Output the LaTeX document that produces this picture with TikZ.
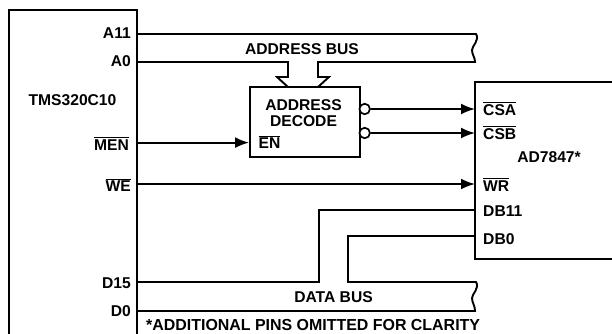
\documentclass[tikz,border=0pt]{standalone}
\usepackage{fontspec}
\setmainfont{Liberation Sans}
\usepackage{amsmath}
\usetikzlibrary{arrows.meta}
\newcommand{\barsig}[1]{$\overline{\mbox{#1}}$}
\tikzset{
  pin/.style={font=\fontsize{15.7}{16}\selectfont\bfseries, inner sep=0pt, text height=11.2pt, text depth=0pt},
  pinr/.style={pin, anchor=east},
  pinl/.style={pin, anchor=west},
  chip/.style={line width=2.6bp, line cap=rect},
  wire/.style={line width=1.9bp},
  sig/.style={wire, -{Latex[length=14bp,width=11bp]}},
  bubble/.style={circle, draw, line width=1.7bp, fill=white, minimum size=10.5bp, inner sep=0pt}
}
\begin{document}
\begin{tikzpicture}[x=1bp, y=-1bp]
  \useasboundingbox (0,0) rectangle (612,333);
  % chips
  \draw[chip] (9,333) -- (9,10) -- (137,10) -- (137,333);
  \draw[chip] (612,82) -- (475,82) -- (475,259) -- (612,259);
  \node[draw, line width=1.9bp, minimum width=110bp, minimum height=70bp, inner sep=0pt] (decode) at (305,122) {};
  % pins, left
  \coordinate (a11) at (137,34);
  \coordinate (a0) at (137,62);
  \coordinate (men) at (137,142.6);
  \coordinate (we) at (137,184);
  \coordinate (d15) at (137,282);
  \coordinate (d0) at (137,311);
  % pins, right
  \coordinate (csa) at (475,109);
  \coordinate (csb) at (475,133);
  \coordinate (wr) at (475,184);
  \coordinate (db11) at (475,210);
  \coordinate (db0) at (475,236);
  \coordinate (en) at (decode.west |- men);
  % labels
  \node[pinr] (la11) at (131,33) {A11};
  \node[pinr] (la0) at (131,61) {A0};
  \node[pin] (dsp) at (72.5,100) {TMS320C10};
  \node[pinr] (lmen) at (129,144.5) {\barsig{MEN}};
  \node[pinr] (lwe) at (131,186) {\barsig{WE}};
  \node[pinr] (ld15) at (131,283) {D15};
  \node[pinr] (ld0) at (131,311) {D0};
  \node[pin] (addr) at (302,48.5) {ADDRESS BUS};
  \node[pin] (data) at (333.5,297) {DATA BUS};
  \node[pin] (ltop) at (303.5,105) {ADDRESS};
  \node[pin] (lbot) at (303.5,121) {DECODE};
  \node[pinl] (len) at (258.5,143) {\barsig{EN}};
  \node[pinl] (lcsa) at (483,109.5) {\barsig{CSA}};
  \node[pinl] (lcsb) at (483,133.5) {\barsig{CSB}};
  \node[pin] (dac) at (549,157) {AD7847*};
  \node[pinl] (lwr) at (483,185.5) {\barsig{WR}};
  \node[pinl] (ldb11) at (483,210.5) {DB11};
  \node[pinl] (ldb0) at (483,238.5) {DB0};
  \node[pinl, font=\fontsize{16}{16}\selectfont\bfseries] (note) at (146,325) {*ADDITIONAL PINS OMITTED FOR CLARITY};
  % address bus
  \draw[wire] (a11) -- (476,34) .. controls (480,40) and (472,46) .. (472,50) .. controls (472,55) and (475,57) .. (475,62) -- (318,62)
    -- (318,77) -- (329,77) -- (318,87);
  \draw[wire] (a0) -- (288,62) -- (288,77) -- (277,77) -- (288,87);
  % data bus
  \draw[wire] (d15) -- (319,282) -- (319,210) -- (db11);
  \draw[wire] (db0) -- (348,236) -- (348,282) -- (476,282) .. controls (480,288) and (472,294) .. (472,298) .. controls (472,303) and (475,305) .. (475,311) -- (d0);
  % control
  \draw[sig] (men) -- (en);
  \draw[sig] (we) -- (wr);
  \node[bubble] (ba) at (364.7,109) {};
  \node[bubble] (bb) at (364.7,133) {};
  \draw[sig] (ba) -- (csa);
  \draw[sig] (bb) -- (csb);
\end{tikzpicture}
\end{document}
